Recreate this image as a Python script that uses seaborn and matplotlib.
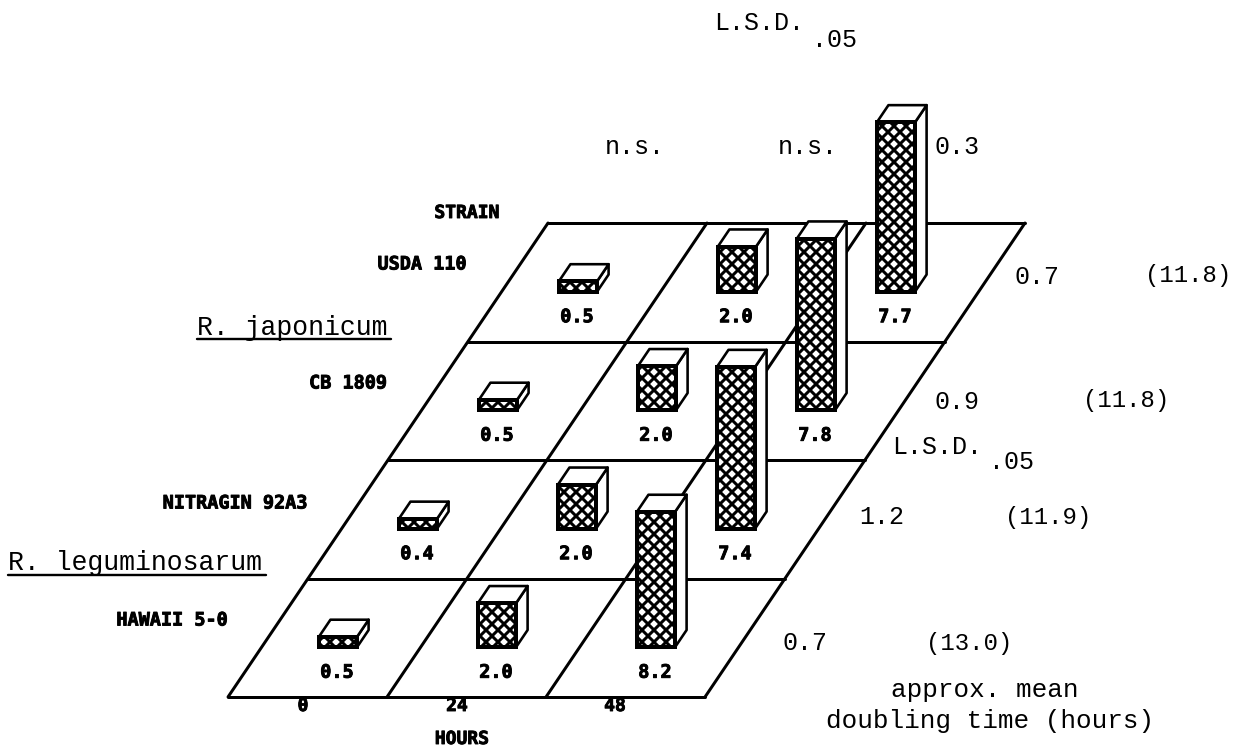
import pandas as pd
import matplotlib
matplotlib.use("Agg")
import matplotlib.pyplot as plt
import matplotlib.patheffects as pe
import seaborn as sns

# data, front row first
strains = ["HAWAII 5-0", "NITRAGIN 92A3", "CB 1809", "USDA 110"]
hours = ["0", "24", "48"]
value_labels = [
    ["0.5", "2.0", "8.2"],
    ["0.4", "2.0", "7.4"],
    ["0.5", "2.0", "7.8"],
    ["0.5", "2.0", "7.7"],
]
# heights as drawn (the 8.2 bar is drawn shorter than its label in the original)
bar_heights = [
    [0.47, 2.0, 6.15],
    [0.45, 2.0, 7.35],
    [0.47, 2.0, 7.8],
    [0.47, 2.05, 7.7],
]
lsd_rows = ["0.7", "1.2", "0.9", "0.7"]
doubling = ["(13.0)", "(11.9)", "(11.8)", "(11.8)"]
lsd_cols = ["n.s.", "n.s.", "0.3"]

# oblique projection of the floor, 1 unit of height = 22 px
HEIGHT = 749
X0, Y0 = 228, 52
COL_W, ROW_DX, ROW_DY = 159, 80, 118.5
UNIT = 22
BAR_W, BAR_D = 0.24, 0.145
BAR_C, BAR_R = 0.36, 0.42
MONO = "Liberation Mono"
BOLD = "DejaVu Sans Mono"
HEAVY = [pe.withStroke(linewidth=0.9, foreground="black")]


def project(c, r, h=0):
    return X0 + c * COL_W + r * ROW_DX, Y0 + r * ROW_DY + h * UNIT


def label(x, y, s, size=26, ha="left", va="baseline"):
    ax.text(x, HEIGHT - y, s, fontsize=size, family=MONO, ha=ha, va=va, color="black")


def bold_label(x, y, s, size=18.5):
    ax.text(x, HEIGHT - y, s, fontsize=size, family=BOLD, weight="bold", ha="center", va="center",
            color="black", path_effects=HEAVY, zorder=30)


sns.set_style("white")
plt.rcParams["hatch.linewidth"] = 3.0

fig = plt.figure(figsize=(1233 / 72, 749 / 72), dpi=72)
ax = fig.add_axes([0, 0, 1, 1])

# floor grid
for r in range(len(strains) + 1):
    x, y = zip(project(0, r), project(len(hours), r))
    ax.plot(x, y, color="black", lw=3, zorder=1, solid_capstyle="round")
for c in range(len(hours) + 1):
    x, y = zip(project(c, 0), project(c, len(strains)))
    ax.plot(x, y, color="black", lw=3, zorder=1, solid_capstyle="round")

# bars, back row first so the front ones cover them
for r in reversed(range(len(strains))):
    z = 10 + (len(strains) - r)
    xs = [project(c + BAR_C + BAR_W / 2, r + BAR_R)[0] for c in range(len(hours))]
    base = project(0, r + BAR_R)[1]
    row_df = pd.DataFrame({"x": xs, "h": [h * UNIT for h in bar_heights[r]]})
    sns.barplot(data=row_df, x="x", y="h", native_scale=True, errorbar=None, width=BAR_W,
                bottom=base, color="white", saturation=1, edgecolor="black", linewidth=4,
                hatch="xx", zorder=z + 0.5, ax=ax)
    for c in range(len(hours)):
        h = bar_heights[r][c]
        c0, c1, r0, r1 = c + BAR_C, c + BAR_C + BAR_W, r + BAR_R, r + BAR_R + BAR_D
        top = [project(c0, r0, h), project(c1, r0, h), project(c1, r1, h), project(c0, r1, h)]
        side = [project(c1, r0, 0), project(c1, r1, 0), project(c1, r1, h), project(c1, r0, h)]
        ax.fill(*zip(*side), facecolor="white", edgecolor="black", lw=2.6, zorder=z, joinstyle="round")
        ax.fill(*zip(*top), facecolor="white", edgecolor="black", lw=2.6, zorder=z, joinstyle="round")
        bx, by = project(c0 + BAR_W / 2, r0)
        bold_label(bx - 1, HEIGHT - by + 25, value_labels[r][c])

# strain names
for name, x, y in zip(strains, [172, 235, 348, 422], [620, 503, 383, 264]):
    bold_label(x, y, name)
bold_label(467, 213, "STRAIN", size=18)

# hours axis
for h, x in zip(hours, [303, 457, 615]):
    bold_label(x, 706, h, size=18)
bold_label(462, 739, "HOURS", size=18)

# species names
label(197, 335, "R. japonicum", size=26.5)
ax.plot([197, 391], [HEIGHT - 339, HEIGHT - 339], color="black", lw=2.4)
label(8, 570, "R. leguminosarum", size=26.5)
ax.plot([8, 266], [HEIGHT - 575, HEIGHT - 575], color="black", lw=2.4)

# L.S.D. and doubling time columns
label(714, 30, "L.S.D.", size=25)
label(812, 47, ".05", size=25)
label(892, 454, "L.S.D.", size=25)
label(989, 469, ".05", size=25)
for s, x in zip(lsd_cols, [605, 778, 935]):
    label(x, 154, s, size=25)
for s, x, y in zip(lsd_rows, [782, 859, 934, 1014], [650, 524, 409, 284]):
    label(x, y, s, size=25)
for s, x, y in zip(doubling, [926, 1005, 1083, 1145], [650, 524, 407, 282]):
    label(x, y, s, size=24)
label(985, 697, "approx. mean", ha="center")
label(990, 728, "doubling time (hours)", ha="center")

ax.set_xlim(0, 1233)
ax.set_ylim(0, 749)
ax.set_axis_off()

fig.savefig("out.png", dpi=72, facecolor="white")
